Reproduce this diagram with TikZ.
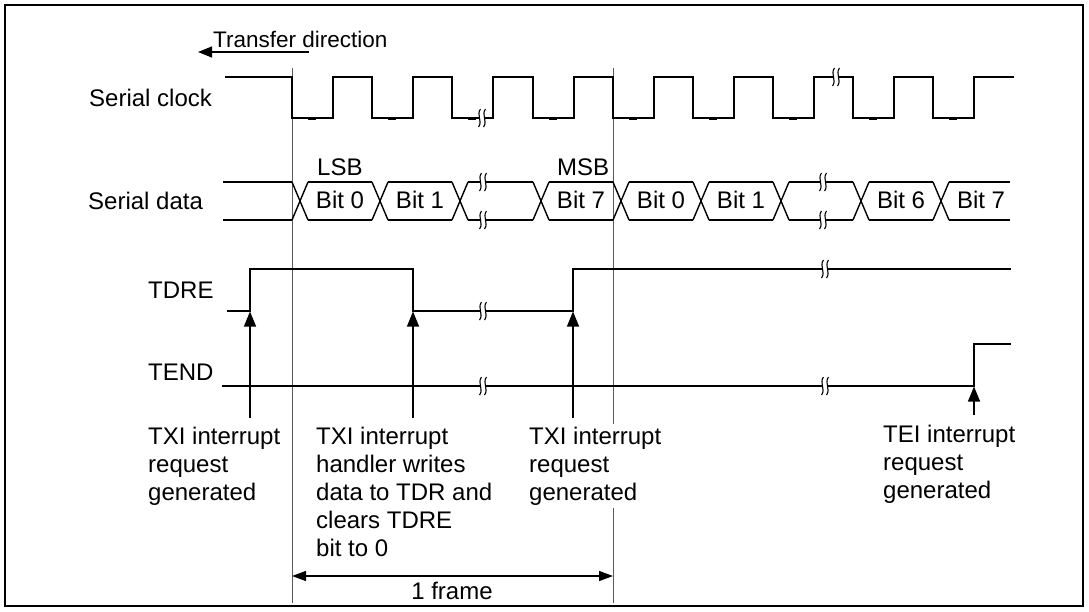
\documentclass[tikz,border=0pt]{standalone}
\usepackage{fontspec}
\setmainfont{Liberation Sans}
\usetikzlibrary{arrows.meta}
\newcommand\brkmark[2]{%
  \fill[white] ({#1-3},{#2-7}) rectangle ({#1+3},{#2+7});
  \draw[line width=1.1pt] ({#1-1.5},{#2-9}) .. controls ({#1-6},{#2-3}) and ({#1+1},{#2+3}) .. ({#1-3.5},{#2+9});
  \draw[line width=1.1pt] ({#1+3.5},{#2-9}) .. controls ({#1-1},{#2-3}) and ({#1+6},{#2+3}) .. ({#1+1.5},{#2+9});
}
\begin{document}
\begin{tikzpicture}[x=1pt,y=-1pt,
  sig/.style={line width=1.4pt, black, line join=miter},
  frameline/.style={line width=0.9pt, black!65},
  lbl/.style={font=\fontsize{24}{28}\selectfont, inner sep=0pt},
  upar/.style={line width=1.2pt, -{Triangle[length=15pt,width=12pt]}},
  dimar/.style={line width=1.2pt, {Triangle[length=14pt,width=10pt]}-{Triangle[length=14pt,width=10pt]}}]
\useasboundingbox (0,0) rectangle (1089,611);
\draw[line width=2.5pt] (5,5) rectangle (1083,606);

% frame boundary lines
\draw[frameline] (292,68) -- (292,603);
\draw[frameline] (613,68) -- (613,603);

% transfer direction
\coordinate (tdA) at (309,52);
\coordinate (tdB) at (198,52);
\draw[line width=1.2pt, -{Triangle[length=14pt,width=11pt]}] (tdA) -- (tdB);
\node[font=\fontsize{22.5}{26}\selectfont, inner sep=0pt, anchor=base west] (tdir) at (213,47) {Transfer direction};

% signal names
\node[lbl, anchor=base west] (nclk) at (89,106) {Serial clock};
\node[lbl, anchor=base west] (ndat) at (88,209.5) {Serial data};
\node[lbl, anchor=base west] (ntdre) at (148,298) {TDRE};
\node[lbl, anchor=base west] (ntend) at (148,380) {TEND};

% serial clock
\draw[sig] (225,77) -- (292,77) |- (333,118) |- (372,77) |- (413,118) |- (452,77) |- (493,118)
  |- (533,77) |- (574,118) |- (613,77) |- (654,118) |- (693,77) |- (734,118) |- (773,77)
  |- (814,118) |- (853,77) |- (894,118) |- (933,77) |- (974,118) |- (1014,77);
\foreach \c in {312,392,472,553,633,713,793,873,953}
  \draw[line width=2.6pt] (\c-4,118.6) -- (\c+4,118.6);
\brkmark{482}{118}
\brkmark{836}{77}

% serial data
\foreach \f in {292,372,452,533,613,693,773,853,933} {
  \draw[sig] (\f,182) -- (\f+16,220);
  \draw[sig] (\f,220) -- (\f+16,182);
}
\foreach \a/\b in {223/292,308/372,388/452,468/533,549/613,629/693,709/773,789/853,869/933,949/1010} {
  \draw[sig] (\a,182) -- (\b,182);
  \draw[sig] (\a,220) -- (\b,220);
}
\brkmark{483}{182}
\brkmark{483}{220}
\brkmark{823}{182}
\brkmark{823}{220}
\node[lbl] (b0a) at (340,200) {Bit 0};
\node[lbl] (b1a) at (420,200) {Bit 1};
\node[lbl] (b7a) at (581,200) {Bit 7};
\node[lbl] (b0b) at (661,200) {Bit 0};
\node[lbl] (b1b) at (741,200) {Bit 1};
\node[lbl] (b6b) at (901,200) {Bit 6};
\node[lbl] (b7b) at (981,200) {Bit 7};
\node[lbl, anchor=base west] (lsb) at (317,175) {LSB};
\node[lbl, anchor=base west] (msb) at (557,175) {MSB};

% TDRE
\draw[sig] (227,311) -- (250,311) |- (413,269) |- (573,311) |- (1011,269);
\brkmark{483}{311}
\brkmark{825}{269}

% TEND
\draw[sig] (222,386) -- (974,386) |- (1011,344);
\brkmark{483}{386}
\brkmark{825}{386}

% arrows
\coordinate (a1s) at (250,418); \coordinate (a1e) at (250,311.5);
\coordinate (a2s) at (413,418); \coordinate (a2e) at (413,311.5);
\coordinate (a3s) at (573,418); \coordinate (a3e) at (573,311.5);
\coordinate (a4s) at (974,415); \coordinate (a4e) at (974,386.5);
\draw[upar] (a1s) -- (a1e);
\draw[upar] (a2s) -- (a2e);
\draw[upar] (a3s) -- (a3e);
\draw[upar] (a4s) -- (a4e);

% labels
\node[lbl, align=left, anchor=north west] (l1) at (148,426.6) {TXI interrupt\\request\\generated};
\node[lbl, align=left, anchor=north west] (l2) at (316,426.6) {TXI interrupt\\handler writes\\data to TDR and\\clears TDRE\\bit to 0};
\node[lbl, align=left, anchor=north west, fill=white, inner sep=3pt] (l3) at (526,423.6) {TXI interrupt\\request\\generated};
\node[lbl, align=left, anchor=north west] (l4) at (883,425) {TEI interrupt\\request\\generated};

% 1 frame
\coordinate (fl) at (292,576);
\coordinate (fr) at (613,576);
\draw[dimar] (fl) -- (fr);
\node[lbl, anchor=base] (frm) at (452,599) {1 frame};
\end{tikzpicture}
\end{document}
